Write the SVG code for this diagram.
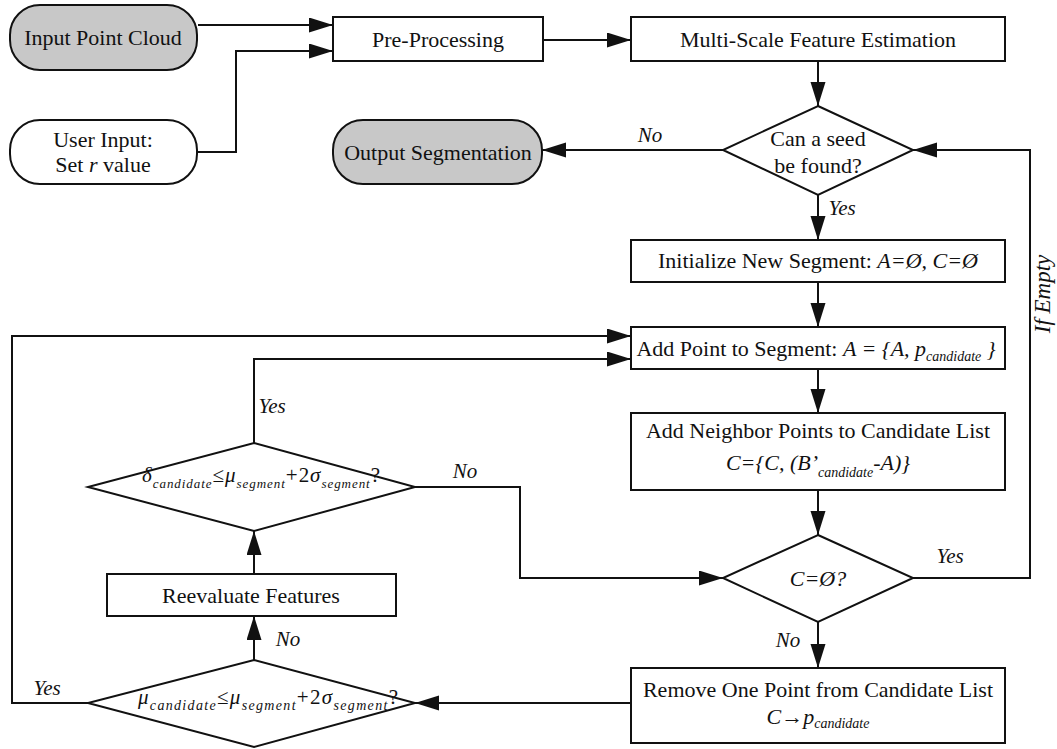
<svg xmlns="http://www.w3.org/2000/svg" width="1057" height="749" viewBox="0 0 1057 749">
<style>
text{font-family:"Liberation Serif","Times New Roman",serif;font-size:22px;fill:#111;}
.it{font-style:italic;}
.lbl{font-style:italic;font-size:21px;}
.sub{font-style:italic;font-size:14px;}
.fm{font-size:21px;}
.fm .sub{font-size:13px;}
.fm2 .sub{font-size:14px;}
.box{fill:#fff;stroke:#111;stroke-width:2;}
.term{fill:#c8c8c8;stroke:#111;stroke-width:2;}
.termw{fill:#fff;stroke:#111;stroke-width:2;}
.con{fill:none;stroke:#111;stroke-width:2;marker-end:url(#ah);}
</style>
<defs>
<marker id="ah" markerUnits="userSpaceOnUse" markerWidth="26" markerHeight="16" refX="24" refY="7.5" orient="auto">
<path d="M0,0 L24,7.5 L0,15 z" fill="#111"/>
</marker>
</defs>
<rect width="1057" height="749" fill="#fff"/>

<g id="connectors">
<path class="con" d="M198,25 H333"/>
<path class="con" d="M197,152 H236 V51 H333"/>
<path class="con" d="M543,40 H631"/>
<path class="con" d="M818,61 V106"/>
<path class="con" d="M724,150 H542"/>
<path class="con" d="M818,195 V240"/>
<path class="con" d="M818,282 V327"/>
<path class="con" d="M818,369 V413"/>
<path class="con" d="M818,490 V535"/>
<path class="con" d="M913,578 H1030 V150 H913"/>
<path class="con" d="M818,622 V668"/>
<path class="con" d="M631,703 H415"/>
<path class="con" d="M90,703 H12 V336 H631"/>
<path class="con" d="M254,660 V616"/>
<path class="con" d="M254,574 V531"/>
<path class="con" d="M254,443 V359 H631"/>
<path class="con" d="M415,487 H520 V578 H723"/>
<text class="lbl" x="650" y="142" text-anchor="middle">No</text>
<text class="lbl" x="842" y="215" text-anchor="middle">Yes</text>
<text class="lbl" x="950" y="563" text-anchor="middle">Yes</text>
<text class="lbl" x="788" y="647" text-anchor="middle">No</text>
<text class="lbl" x="465" y="478" text-anchor="middle">No</text>
<text class="lbl" x="272" y="413" text-anchor="middle">Yes</text>
<text class="lbl" x="288" y="646" text-anchor="middle">No</text>
<text class="lbl" x="47" y="695" text-anchor="middle">Yes</text>
<text class="lbl" style="font-size:23px" transform="translate(1050,294) rotate(-90)" text-anchor="middle">If Empty</text>
</g>

<g id="input-point-cloud">
<rect class="term" x="10" y="5" width="187" height="65" rx="30"/>
<text x="103" y="45" text-anchor="middle">Input Point Cloud</text>
</g>

<g id="user-input">
<rect class="termw" x="10" y="120" width="187" height="64" rx="30"/>
<text x="103" y="147" text-anchor="middle">User Input:</text>
<text x="103" y="172" text-anchor="middle">Set <tspan class="it">r</tspan> value</text>
</g>

<g id="pre-processing">
<rect class="box" x="333" y="17" width="210" height="44"/>
<text x="438" y="47" text-anchor="middle">Pre-Processing</text>
</g>

<g id="multi-scale">
<rect class="box" x="631" y="17" width="374" height="44"/>
<text x="818" y="47" text-anchor="middle">Multi-Scale Feature Estimation</text>
</g>

<g id="seed-decision">
<polygon class="box" points="818,106 913,150 818,195 723,150"/>
<text x="818" y="146" text-anchor="middle">Can a seed</text>
<text x="818" y="173" text-anchor="middle">be found?</text>
</g>

<g id="output-segmentation">
<rect class="term" x="333" y="120" width="209" height="64" rx="30"/>
<text x="438" y="160" text-anchor="middle">Output Segmentation</text>
</g>

<g id="initialize">
<rect class="box" x="631" y="240" width="374" height="42"/>
<text x="818" y="268" text-anchor="middle">Initialize New Segment: <tspan class="it">A=Ø, C=Ø</tspan></text>
</g>

<g id="add-point">
<rect class="box" x="631" y="327" width="374" height="42"/>
<text x="816" y="356" text-anchor="middle">Add Point to Segment: <tspan class="it">A = {A, p</tspan><tspan class="sub" dy="5">candidate</tspan><tspan class="it" dy="-5"> }</tspan></text>
</g>

<g id="add-neighbor">
<rect class="box" x="631" y="413" width="374" height="77"/>
<text x="818" y="438" text-anchor="middle">Add Neighbor Points to Candidate List</text>
<text x="818" y="470" text-anchor="middle"><tspan class="it">C={C, (B’</tspan><tspan class="sub" dy="7">candidate</tspan><tspan class="it" dy="-7">-A)}</tspan></text>
</g>

<g id="empty-decision">
<polygon class="box" points="818,535 913,578 818,622 723,578"/>
<text class="it" x="818" y="586" text-anchor="middle">C=Ø?</text>
</g>

<g id="remove-point">
<rect class="box" x="631" y="668" width="374" height="75"/>
<text x="818" y="697" text-anchor="middle">Remove One Point from Candidate List</text>
<text x="818" y="724" text-anchor="middle"><tspan class="it">C→p</tspan><tspan class="sub" dy="4">candidate</tspan></text>
</g>

<g id="delta-decision">
<polygon class="box" points="254,443 415,487 254,531 88,487"/>
<text class="fm" x="142" y="482" textLength="238" lengthAdjust="spacing"><tspan class="it">δ</tspan><tspan class="sub" dy="6">candidate</tspan><tspan dy="-6">≤</tspan><tspan class="it">μ</tspan><tspan class="sub" dy="6">segment</tspan><tspan dy="-6">+2</tspan><tspan class="it">σ</tspan><tspan class="sub" dy="6">segment</tspan><tspan dy="-6">?</tspan></text>
</g>

<g id="reevaluate">
<rect class="box" x="107" y="574" width="289" height="42"/>
<text x="251" y="603" text-anchor="middle">Reevaluate Features</text>
</g>

<g id="mu-decision">
<polygon class="box" points="254,660 415,703 254,747 88,703"/>
<text class="fm fm2" x="138" y="704" textLength="260" lengthAdjust="spacing"><tspan class="it">μ</tspan><tspan class="sub" dy="6">candidate</tspan><tspan dy="-6">≤</tspan><tspan class="it">μ</tspan><tspan class="sub" dy="6">segment</tspan><tspan dy="-6">+2</tspan><tspan class="it">σ</tspan><tspan class="sub" dy="6">segment</tspan><tspan dy="-6">?</tspan></text>
</g>
</svg>
